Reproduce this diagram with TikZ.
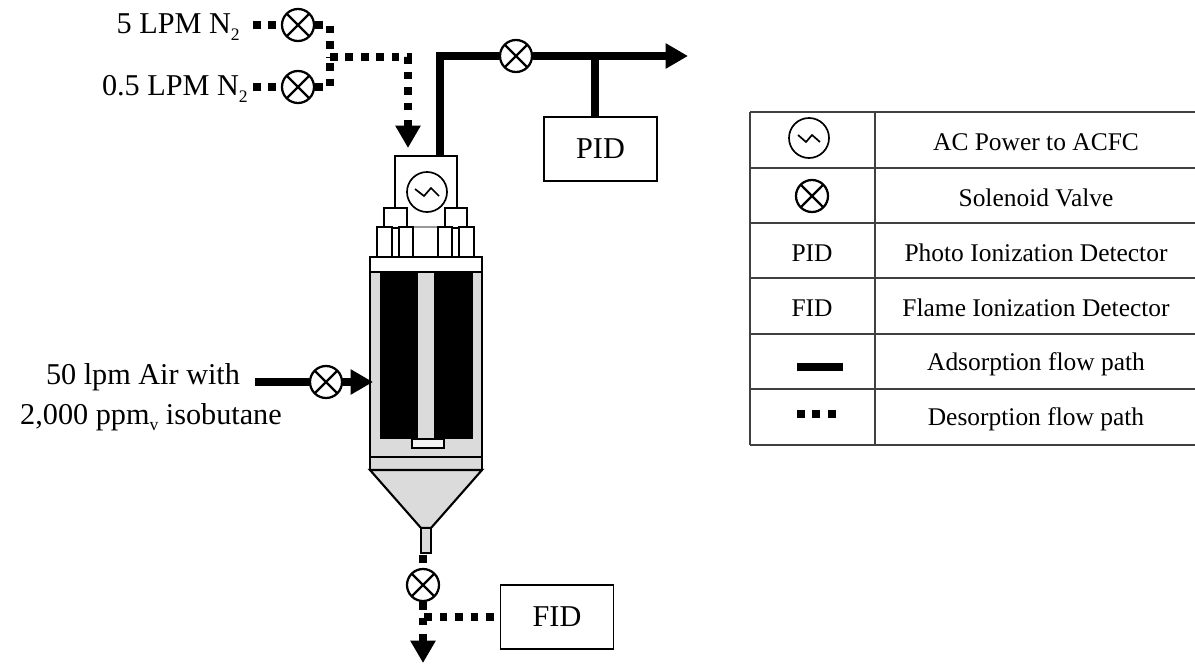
\documentclass[tikz,border=0pt]{standalone}
\usepackage{fontspec}
\setmainfont{Liberation Serif}
\usepackage{tikz}
\usetikzlibrary{calc}
\usetikzlibrary{shapes,arrows.meta}
\definecolor{ventgray}{gray}{0.86}
\newcommand{\lowtext}[1]{\raisebox{-0.22em}{\fontsize{12.5}{13}\selectfont #1}}

\begin{document}
\begin{tikzpicture}[
    x=0.025cm,y=-0.025cm,
    font=\fontsize{21.5}{24}\selectfont,
    part/.style={draw=black, line width=1.5pt, inner sep=0pt},
    boxnode/.style={rectangle, draw=black, line width=1.2pt, inner sep=0pt, minimum width=2.82cm, minimum height=1.6cm},
    valve/.style={circle, draw=black, line width=1.6pt, minimum size=0.8cm, inner sep=0pt,
      path picture={\draw[line width=1.6pt] (path picture bounding box.north west) -- (path picture bounding box.south east)
        (path picture bounding box.north east) -- (path picture bounding box.south west);}},
    acnode/.style={circle, draw=black, line width=1.2pt, minimum size=1cm, inner sep=0pt},
    adsflow/.style={line width=5pt},
    desflow/.style={line width=5.4pt, dash pattern=on 5.4pt off 5.6pt},
    headtip/.style={-{Triangle[length=0.56cm,width=0.6cm]}},
    textnode/.style={inner sep=0pt},
    rowtext/.style={inner sep=0pt, anchor=center, font=\fontsize{18.1}{20}\selectfont},
    grid/.style={line width=0.8pt, draw=black!75}
    ]
  \useasboundingbox (0,0) rectangle (1195,664);
  % vessel
  \draw[part,fill=ventgray] (370,272) rectangle (482,470);
  \fill[black] (380,272) rectangle (418,439);
  \fill[black] (434,272) rectangle (473,439);
  \draw[part,fill=white!70!ventgray,line width=1.2pt] (412,439) rectangle (444,448);
  \draw[part] (370,457) -- (482,457);
  \draw[part,fill=ventgray] (370,470) -- (482,470) -- (431,528) -- (421,528) -- cycle;
  \draw[part,fill=ventgray,line width=1.2pt] (421,528) rectangle (431,553);
  \draw[part,fill=white] (370,257) rectangle (482,272);
  \draw[part] (395,208) -- (395,156) -- (457,156) -- (457,208);
  \draw[draw=black!40,line width=0.8pt] (413,227) -- (438,227);
  \draw[part,fill=white] (384,208) rectangle (407,228);
  \draw[part,fill=white] (445,208) rectangle (467,228);
  \foreach \px/\pw in {377/15,399/14,438/14,459/15} {
    \draw[part,fill=white] (\px,227) rectangle ++(\pw,30);
  }
  % nodes
  \node[acnode] (Power) at (427,192) {};
  \draw[line width=1.2pt] ($(Power)+(-12,-3)$) -- ($(Power)+(-3,4)$) -- ($(Power)+(4,-4)$) -- ($(Power)+(12,4)$);
  \node[valve] (ValveHigh) at (298,25) {};
  \node[valve] (ValveLow) at (298,87) {};
  \node[valve] (ValveOut) at (516,56) {};
  \node[valve] (ValveAir) at (326,382) {};
  \node[valve] (ValveBottom) at (423,585) {};
  \node[boxnode] (PID) at (600.5,149) {PID};
  \node[boxnode] (FID) at (557,617) {FID};
  \node[textnode,anchor=east] (HighLabel) at (240,27) {5 LPM N\lowtext{2}};
  \node[textnode,anchor=east] (LowLabel) at (248,89) {0.5 LPM N\lowtext{2}};
  \node[textnode,anchor=center] (AirOne) at (143,377) {50 lpm Air with};
  \node[textnode,anchor=center] (AirTwo) at (151,417) {2,000 ppm\lowtext{v} isobutane};
  % coordinates
  \coordinate (HighStart) at (253,25);
  \coordinate (LowStart) at (253,87);
  \coordinate (Merge) at (330,57);
  \coordinate (InletTip) at (408,148);
  \coordinate (OutStart) at (440,156);
  \coordinate (OutCorner) at (440,56);
  \coordinate (OutTip) at (688,56);
  \coordinate (Tee) at (595,56);
  \coordinate (AirStart) at (255,382);
  \coordinate (AirTip) at (373,382);
  \coordinate (Stem) at (423,555);
  \coordinate (DrainTee) at (423,617);
  \coordinate (DrainTip) at (423,663);
  % arrows
  \draw[adsflow] (OutStart) -- (OutCorner) -- (ValveOut);
  \draw[adsflow,headtip] (ValveOut) -- (OutTip);
  \draw[adsflow] (Tee) -- (Tee |- PID.north);
  \draw[adsflow] (AirStart) -- (ValveAir);
  \draw[adsflow,headtip] (ValveAir) -- (AirTip);
  \draw[desflow] (HighStart) -- (ValveHigh);
  \draw[desflow] (LowStart) -- (ValveLow);
  \draw[desflow] (ValveHigh) -| (Merge);
  \draw[desflow] (ValveLow) -| (Merge);
  \draw[desflow] (Merge) -| ($(InletTip)+(0,-36)$);
  \draw[adsflow,headtip] ($(InletTip)+(0,-28)$) -- (InletTip);
  \draw[desflow] (Stem) -- (ValveBottom);
  \draw[desflow] (ValveBottom) -- ($(DrainTip)+(0,-36)$);
  \draw[adsflow,headtip] ($(DrainTip)+(0,-29)$) -- (DrainTip);
  \draw[desflow] ($(FID.west)+(-6,0)$) -- (DrainTee);
  % table
  \foreach \py in {112,168,223,278,334,389,445} {
    \draw[grid] (750,\py) -- (1195,\py);
  }
  \draw[grid] (750,112) -- (750,445);
  \draw[grid] (875,112) -- (875,445);
  \node[acnode] (KeyPower) at (809,138) {};
  \draw[line width=1.2pt] ($(KeyPower)+(-11,-3)$) -- ($(KeyPower)+(-3,4)$) -- ($(KeyPower)+(3,-3)$) -- ($(KeyPower)+(11,4)$);
  \node[valve] (KeyValve) at (812,196) {};
  \node[rowtext] (KeyPID) at (812,253) {PID};
  \node[rowtext] (KeyFID) at (812,308) {FID};
  \coordinate (KeyAdsL) at (797,367);
  \coordinate (KeyAdsR) at (843,367);
  \coordinate (KeyDesL) at (797,414);
  \coordinate (KeyDesR) at (837,414);
  \draw[adsflow] (KeyAdsL) -- (KeyAdsR);
  \draw[desflow] (KeyDesL) -- (KeyDesR);
  \node[rowtext] (RowPower) at (1036,142) {AC Power to ACFC};
  \node[rowtext] (RowValve) at (1036,198) {Solenoid Valve};
  \node[rowtext] (RowPID) at (1036,253) {Photo Ionization Detector};
  \node[rowtext] (RowFID) at (1036,308) {Flame Ionization Detector};
  \node[rowtext] (RowAds) at (1036,364) {Adsorption flow path};
  \node[rowtext] (RowDes) at (1036,419) {Desorption flow path};
\end{tikzpicture}
\end{document}
